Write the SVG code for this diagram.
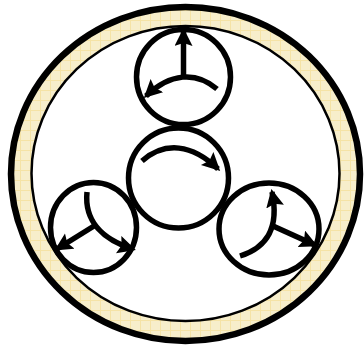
<svg xmlns="http://www.w3.org/2000/svg" width="364" height="346" viewBox="0 0 364 346">
<style>
.n{fill:#fff;stroke:#000;stroke-width:5.500}
.a{fill:none;stroke:#000;stroke-width:5.500;marker-end:url(#h)}
</style>
<defs>
<marker id="h" markerUnits="userSpaceOnUse" markerWidth="20" markerHeight="20" refX="15" refY="9" orient="auto"><path d="M0 0L18 9L0 18L3 9Z" fill="#000"/></marker>
<pattern id="g" width="10" height="10" patternUnits="userSpaceOnUse"><rect width="10" height="10" fill="#f7eecb"/><path d="M0 .5H10M.5 0V10" stroke="#f5e3a6" stroke-width="1" fill="none"/></pattern>
</defs>
<g id="ring">
<ellipse cx="185.500" cy="174" rx="174.500" ry="167" fill="url(#g)" stroke="#000" stroke-width="6.500"/>
<ellipse cx="185.500" cy="173.500" rx="154" ry="147.500" fill="#fff" stroke="#000" stroke-width="2.500"/>
</g>
<g id="top"><ellipse class="n" cx="183.500" cy="77" rx="47" ry="47.500"/></g>
<g id="center"><ellipse class="n" cx="178.500" cy="178" rx="50" ry="50"/></g>
<g id="left"><ellipse class="n" cx="93.500" cy="227.500" rx="43" ry="45"/></g>
<g id="right"><ellipse class="n" cx="269" cy="229" rx="50" ry="46"/></g>
<g id="connectors">
<path class="a" d="M183.500 76V31"/>
<path class="a" d="M217 89C196 71 170 73 146 96"/>
<path class="a" d="M142 161C165 141 192 144 218 169"/>
<path class="a" d="M94 226L57 249"/>
<path class="a" d="M87 192C84 222 104 240 133 249"/>
<path class="a" d="M273 226L315 245"/>
<path class="a" d="M240 256C265 248 280 230 272 192"/>
</g>
</svg>
